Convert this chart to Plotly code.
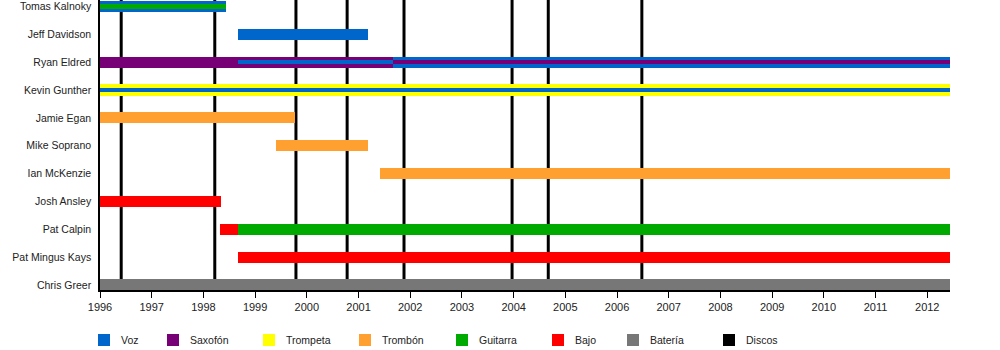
import plotly.graph_objects as go

# ---------------- data ----------------
members = ["Tomas Kalnoky", "Jeff Davidson", "Ryan Eldred", "Kevin Gunther", "Jamie Egan",
           "Mike Soprano", "Ian McKenzie", "Josh Ansley", "Pat Calpin", "Pat Mingus Kays", "Chris Greer"]

roles = ["Voz", "Saxofón", "Trompeta", "Trombón", "Guitarra", "Bajo", "Batería", "Discos"]
role_colors = ["#0066cc", "#770077", "#ffff00", "#ffa030", "#00aa00", "#ff0000", "#777777", "#000000"]

END = 2012.44
# main bars: member, role, start, end
bar_member = ["Tomas Kalnoky", "Jeff Davidson", "Ryan Eldred", "Ryan Eldred", "Kevin Gunther",
              "Jamie Egan", "Mike Soprano", "Ian McKenzie", "Josh Ansley", "Pat Calpin", "Pat Calpin",
              "Pat Mingus Kays", "Chris Greer"]
bar_role = ["Voz", "Voz", "Saxofón", "Voz", "Trompeta",
            "Trombón", "Trombón", "Trombón", "Bajo", "Bajo", "Guitarra",
            "Bajo", "Batería"]
bar_start = [1996.0, 1998.67, 1996.0, 2001.67, 1996.0,
             1996.0, 1999.40, 2001.42, 1996.0, 1998.32, 1998.67,
             1998.67, 1996.0]
bar_end = [1998.44, 2001.18, 2001.67, END, END,
           1999.77, 2001.18, END, 1998.34, 1998.67, END,
           END, END]

# secondary (thin) bars
sec_member = ["Tomas Kalnoky", "Ryan Eldred", "Ryan Eldred", "Kevin Gunther"]
sec_role = ["Guitarra", "Voz", "Saxofón", "Voz"]
sec_start = [1996.0, 1998.67, 2001.67, 1996.0]
sec_end = [1998.44, 2001.67, END, END]

# album releases
album_dates = [1996.41, 1998.22, 1999.79, 2000.78, 2001.88, 2003.97, 2004.67, 2006.48]

year_ticks = list(range(1996, 2013))

# ---------------- figure ----------------
n = len(members)
row_of = {m: n - 1 - i for i, m in enumerate(members)}
color_of = dict(zip(roles, role_colors))

fig = go.Figure()

def add_bars(mem, rol, st, en, width):
    for role in roles:
        idx = [i for i, r in enumerate(rol) if r == role]
        if not idx:
            continue
        fig.add_trace(go.Bar(
            orientation="h",
            y=[row_of[mem[i]] for i in idx],
            base=[st[i] for i in idx],
            x=[en[i] - st[i] for i in idx],
            width=width,
            marker=dict(color=color_of[role], line=dict(width=0)),
            showlegend=False,
            hoverinfo="skip",
        ))

add_bars(bar_member, bar_role, bar_start, bar_end, 0.40)
add_bars(sec_member, sec_role, sec_start, sec_end, 0.16)

for d in album_dates:
    fig.add_shape(type="line", xref="x", yref="paper", x0=d, x1=d, y0=0, y1=1,
                  line=dict(color="black", width=3), layer="below")

# legend drawn manually
leg_sq_x = [98, 167, 263, 359, 456, 552, 627, 723]
for xpx, role, col in zip(leg_sq_x, roles, role_colors):
    fig.add_shape(type="rect", xref="paper", yref="paper",
                  x0=(xpx - 100) / 850, x1=(xpx + 12 - 100) / 850,
                  y0=(290 - 346) / 290, y1=(290 - 334) / 290,
                  fillcolor=col, line=dict(width=0))
    fig.add_annotation(xref="paper", yref="paper", x=(xpx + 21 - 100) / 850, y=(290 - 340) / 290,
                       text=role, showarrow=False, xanchor="left", yanchor="middle",
                       font=dict(size=10.5, color="#222222", family="Liberation Sans, Arial"))

fig.update_layout(
    width=1000, height=350,
    margin=dict(l=100, r=50, t=0, b=60),
    plot_bgcolor="white", paper_bgcolor="white",
    barmode="overlay",
    bargap=0,
    font=dict(family="Liberation Sans, Arial", size=11, color="#222222"),
    showlegend=False,
)
fig.update_xaxes(range=[1996, END], tickvals=year_ticks, ticktext=[str(y) for y in year_ticks],
                 showgrid=False, zeroline=False, showline=True, linecolor="black", linewidth=1.5,
                 ticks="outside", ticklen=6, tickcolor="black", tickwidth=1,
                 tickfont=dict(size=11, color="#222222"))
fig.update_yaxes(range=[-0.18, n - 1 + 0.23], tickvals=list(range(n)),
                 ticktext=[members[n - 1 - i] for i in range(n)],
                 showgrid=False, zeroline=False, showline=True, linecolor="black", linewidth=1.5,
                 ticks="", ticklabelstandoff=5,
                 tickfont=dict(size=10.5, color="#222222"))

fig.write_html("out.html")
